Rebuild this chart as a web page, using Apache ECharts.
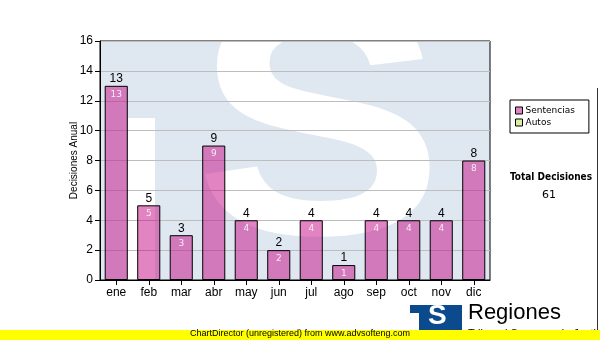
<!DOCTYPE html>
<html>
<head>
<meta charset="utf-8">
<script src="https://cdn.jsdelivr.net/npm/echarts@6/dist/echarts.min.js"></script>
<style>
  html, body { margin: 0; padding: 0; background: #ffffff; }
  #chart { width: 600px; height: 340px; }
</style>
</head>
<body>
<div id="chart"></div>
<script>
// Monthly decisions
const months = ['ene', 'feb', 'mar', 'abr', 'may', 'jun', 'jul', 'ago', 'sep', 'oct', 'nov', 'dic'];
const sentencias = [13, 5, 3, 9, 4, 2, 4, 1, 4, 4, 4, 8];
const autos = [0, 0, 0, 0, 0, 0, 0, 0, 0, 0, 0, 0];
const yTicks = { min: 0, max: 16, interval: 2 };

const totals = months.map((_, i) => sentencias[i] + autos[i]);
const totalDecisiones = totals.reduce((a, b) => a + b, 0);

const chart = echarts.init(document.getElementById('chart'), null, { renderer: 'canvas' });

const plot = { left: 100, top: 41, right: 490, bottom: 280 };
const wmBlue = '#dfe8f1';

chart.setOption({
  animation: false,
  textStyle: { fontFamily: 'Liberation Sans, Arial, sans-serif' },
  grid: {
    left: plot.left, top: plot.top,
    width: plot.right - plot.left, height: plot.bottom - plot.top,
    show: true, borderColor: '#000', borderWidth: 1, backgroundColor: 'transparent'
  },
  legend: {
    orient: 'vertical',
    left: 510, top: 100,
    padding: [6, 14, 6, 5],
    itemGap: 3,
    itemWidth: 7, itemHeight: 7,
    icon: 'rect',
    borderColor: '#000', borderWidth: 1,
    backgroundColor: '#fff',
    itemStyle: { borderColor: '#000', borderWidth: 1 },
    textStyle: { fontFamily: 'DejaVu Sans', fontSize: 9, color: '#000', padding: [0, 0, 0, -2] },
    data: ['Sentencias', 'Autos']
  },
  xAxis: {
    type: 'category',
    data: months,
    axisLine: { show: true, lineStyle: { color: '#000', width: 1 } },
    axisTick: { show: true, alignWithLabel: true, length: 5, lineStyle: { color: '#000' } },
    axisLabel: { color: '#000', fontSize: 12, margin: 7 },
    splitLine: { show: false }
  },
  yAxis: {
    type: 'value',
    min: yTicks.min, max: yTicks.max, interval: yTicks.interval,
    name: 'Decisiones Anual',
    nameLocation: 'middle',
    nameGap: 21,
    nameMoveOverlap: false,
    nameRotate: 90,
    nameTextStyle: { color: '#000', fontSize: 10 },
    axisLine: { show: true, lineStyle: { color: '#000', width: 1 } },
    axisTick: { show: true, length: 5, lineStyle: { color: '#000' } },
    axisLabel: { color: '#000', fontSize: 12, margin: 7 },
    splitLine: { show: true, lineStyle: { color: '#bdbdbd', width: 1 } }
  },
  series: [
    {
      name: 'Sentencias',
      type: 'bar',
      stack: 'dec',
      stackStrategy: 'all',
      data: sentencias,
      barCategoryGap: '29%',
      itemStyle: { color: 'rgba(196, 10, 132, 0.5)', borderColor: '#000', borderWidth: 1 },
      label: {
        show: true, position: 'insideTop', distance: 4,
        color: '#fbeaf6', fontFamily: 'DejaVu Sans', fontSize: 9
      },
      z: 3
    },
    {
      name: 'Autos',
      type: 'bar',
      stack: 'dec',
      stackStrategy: 'all',
      data: autos,
      itemStyle: { color: '#d8efa0', borderWidth: 0 },
      label: {
        show: true, position: 'top', distance: 1,
        color: '#000', fontSize: 12,
        formatter: p => String(totals[p.dataIndex])
      },
      z: 4
    }
  ],
  graphic: [
    // watermark behind the plot
    { type: 'rect', z: -10, silent: true,
      shape: { x: plot.left, y: plot.top, width: plot.right - plot.left, height: plot.bottom - plot.top },
      style: { fill: wmBlue } },
    { type: 'rect', z: -9, silent: true,
      shape: { x: 128, y: 118, width: 27, height: plot.bottom - 118 },
      style: { fill: '#fff' } },
    { type: 'text', z: -9, silent: true, x: 194, y: -24, scaleX: 1.13,
      style: { text: 'S', x: 0, y: 0, fill: '#fff', font: 'bold 332px "Liberation Sans", Arial, sans-serif' } },

    // totals panel
    { type: 'text', left: 510, top: 172,
      style: { text: 'Total Decisiones', fill: '#000', font: 'bold 10px "DejaVu Sans Condensed", "DejaVu Sans", sans-serif' } },
    { type: 'text', left: 542, top: 190,
      style: { text: String(totalDecisiones), fill: '#000', font: '11px "DejaVu Sans", sans-serif' } },
    { type: 'line', shape: { x1: 597.5, y1: 88, x2: 597.5, y2: 330 }, style: { stroke: '#333', lineWidth: 1 } },

    // footer logo
    { type: 'rect', shape: { x: 410, y: 305, width: 52, height: 26 }, style: { fill: '#0c4a8e' } },
    { type: 'rect', shape: { x: 410, y: 313, width: 9, height: 18 }, style: { fill: '#fff' } },
    { type: 'text', left: 428, top: 302,
      style: { text: 'S', fill: '#fff', font: 'bold 28px "Liberation Sans", Arial, sans-serif' } },
    { type: 'text', left: 468, top: 302,
      style: { text: 'Regiones', fill: '#000', font: '22px "Liberation Sans", Arial, sans-serif' } },
    { type: 'text', left: 468, top: 328,
      style: { text: 'Tribunal Supremo de Justicia', fill: '#000', font: '11px "Liberation Sans", Arial, sans-serif' } },

    // footer banner
    { type: 'rect', z: 10, shape: { x: 0, y: 330, width: 600, height: 10 }, style: { fill: '#ffff00' } },
    { type: 'text', z: 11, left: 190, top: 329,
      style: { text: 'ChartDirector (unregistered) from www.advsofteng.com', fill: '#000', font: '9px "Liberation Sans", Arial, sans-serif' } }
  ]
});
</script>
</body>
</html>
